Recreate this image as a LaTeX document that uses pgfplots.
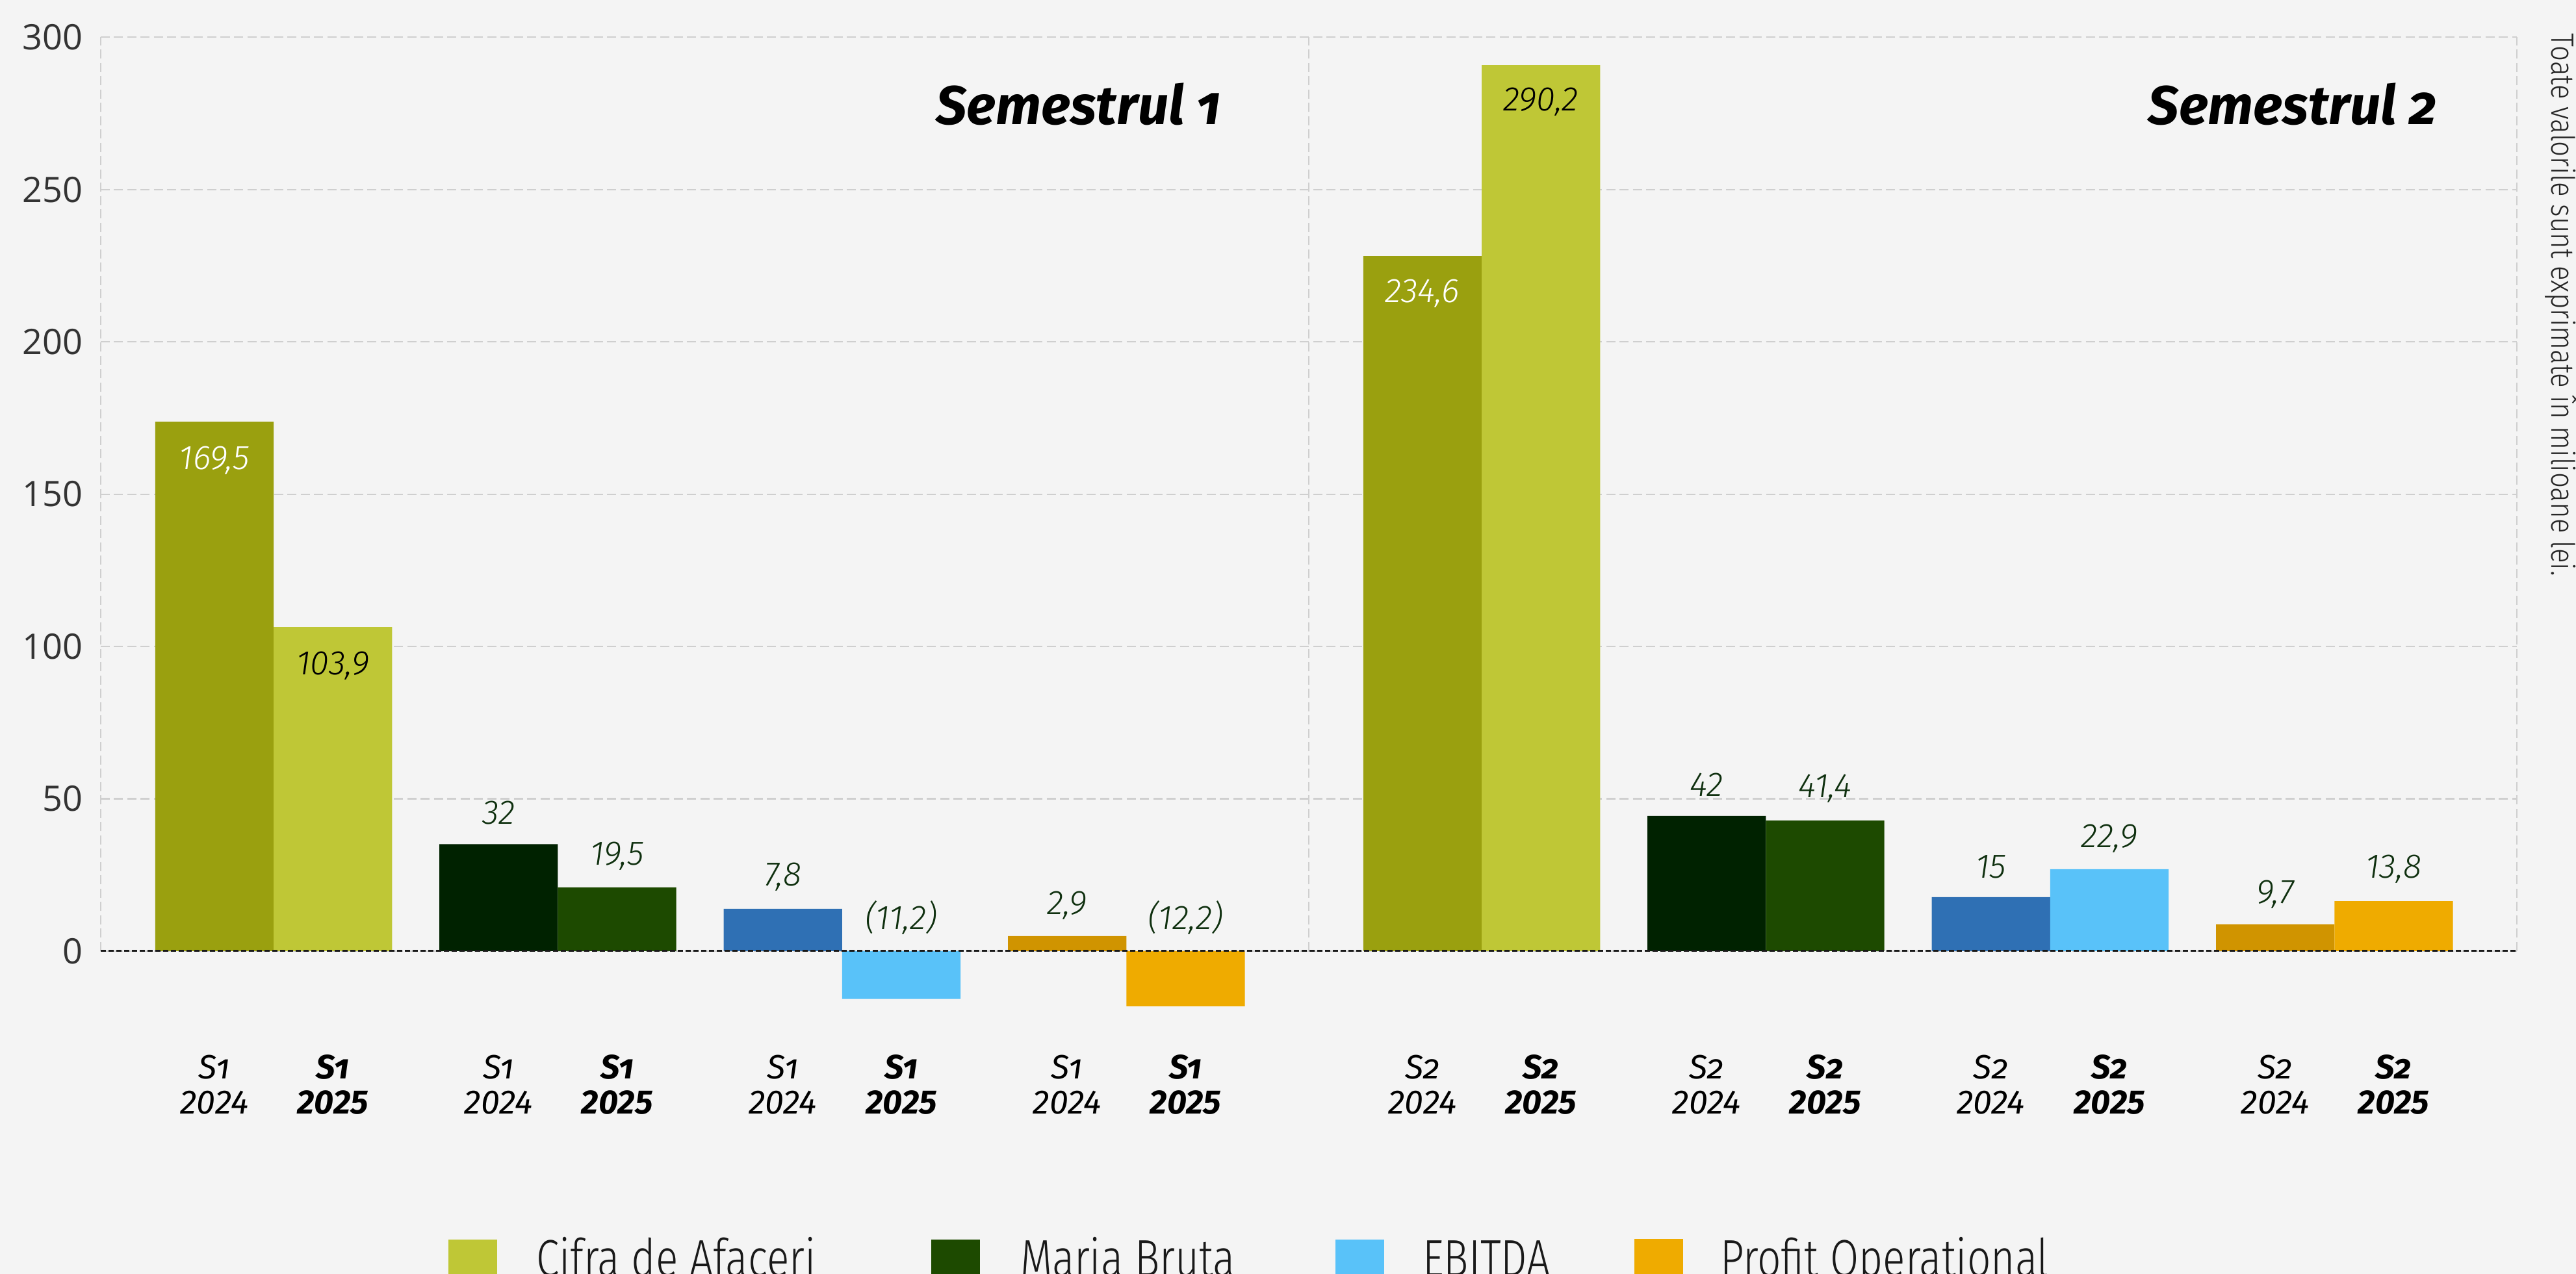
\documentclass[border=0pt]{standalone}
\usepackage{fontspec}
\usepackage{pgfplots}
\pgfplotsset{compat=1.18}
\setmainfont{Fira Sans}
\newfontfamily\fos{Fira Sans}[Numbers=OldStyle]
\newfontfamily\flight{Fira Sans Light}
\newfontfamily\fcond{Fira Sans Light}[FakeStretch=0.80]
\newfontfamily\fnote{Fira Sans Light}[FakeStretch=0.85]
\newfontfamily\tickfont{Open Sans}
\definecolor{bg}{HTML}{F4F4F4}
\definecolor{gridc}{HTML}{CFCFCF}
\definecolor{tickc}{HTML}{333333}
\definecolor{cifA}{HTML}{9AA00F}
\definecolor{cifB}{HTML}{BFC736}
\definecolor{marA}{HTML}{002200}
\definecolor{marB}{HTML}{1D4A00}
\definecolor{ebA}{HTML}{2F70B4}
\definecolor{ebB}{HTML}{59C2F9}
\definecolor{prA}{HTML}{D09400}
\definecolor{prB}{HTML}{EFAB00}
\definecolor{labc}{HTML}{0F300F}
\begin{document}
\begin{tikzpicture}
\useasboundingbox (0,0) rectangle (792.8pt,392.2pt);
\clip (0,0) rectangle (792.8pt,392.2pt);
\fill[bg] (0,0) rectangle (792.8pt,392.2pt);
\begin{axis}[
  at={(31pt,99.4pt)}, anchor=south west,
  x=36.45pt, y=0.93773pt,
  xmin=0, xmax=20.4, ymin=0, ymax=300,
  clip=false,
  axis line style={draw=none},
  tick style={draw=none},
  /pgf/number format/assume math mode=true,
  ytick={0,50,100,150,200,250,300},
  ymajorgrids=true,
  grid style={gridc, line width=0.45pt, dash pattern=on 2.8pt off 1.3pt},
  yticklabel style={font=\tickfont\fontsize{10.8}{12}\selectfont, text=tickc, inner sep=0pt, xshift=-5.4pt},
  xtick={0.96,1.96,3.36,4.36,5.76,6.76,8.16,9.16,11.16,12.16,13.56,14.56,15.96,16.96,18.36,19.36},
  xticklabels={
    {{\fos S1}\\2024},{\textbf{\fos S1}\\\textbf{2025}},
    {{\fos S1}\\2024},{\textbf{\fos S1}\\\textbf{2025}},
    {{\fos S1}\\2024},{\textbf{\fos S1}\\\textbf{2025}},
    {{\fos S1}\\2024},{\textbf{\fos S1}\\\textbf{2025}},
    {{\fos S2}\\2024},{\textbf{\fos S2}\\\textbf{2025}},
    {{\fos S2}\\2024},{\textbf{\fos S2}\\\textbf{2025}},
    {{\fos S2}\\2024},{\textbf{\fos S2}\\\textbf{2025}},
    {{\fos S2}\\2024},{\textbf{\fos S2}\\\textbf{2025}}},
  xticklabel style={font=\itshape\fontsize{10.4}{10.8}\selectfont, align=center, anchor=center, yshift=-41.2pt},
  extra x ticks={0,10.2,20.4},
  extra x tick labels={},
  extra x tick style={grid=major},
]
% Cifra de Afaceri
\addplot[ybar, bar width=1, bar shift=0pt, fill=cifA, draw=none] coordinates {(0.96,173.8) (11.16,228.2)};
\addplot[ybar, bar width=1, bar shift=0pt, fill=cifB, draw=none] coordinates {(1.96,106.4) (12.16,290.9)};
% Marja Bruta
\addplot[ybar, bar width=1, bar shift=0pt, fill=marA, draw=none] coordinates {(3.36,35.1) (13.56,44.4)};
\addplot[ybar, bar width=1, bar shift=0pt, fill=marB, draw=none] coordinates {(4.36,20.9) (14.56,42.9)};
% EBITDA
\addplot[ybar, bar width=1, bar shift=0pt, fill=ebA, draw=none] coordinates {(5.76,13.9) (15.96,17.7)};
\addplot[ybar, bar width=1, bar shift=0pt, fill=ebB, draw=none] coordinates {(6.76,-15.7) (16.96,26.9)};
% Profit Operational
\addplot[ybar, bar width=1, bar shift=0pt, fill=prA, draw=none] coordinates {(8.16,4.9) (18.36,8.8)};
\addplot[ybar, bar width=1, bar shift=0pt, fill=prB, draw=none] coordinates {(9.16,-18.1) (19.36,16.4)};

\draw[black!90, line width=0.6pt, dash pattern=on 1.6pt off 0.8pt] (axis cs:0,0) -- (axis cs:20.4,0);

\tikzset{vl/.style={font=\flight\itshape\fontsize{10.5}{12}\selectfont, text=labc, inner sep=0pt, anchor=center}}
% inside labels
\node[vl, text=white, yshift=-12pt] at (axis cs:0.96,173.8) {169,5};
\node[vl, text=black, yshift=-12pt] at (axis cs:1.96,106.4) {103,9};
\node[vl, text=white, yshift=-11.6pt] at (axis cs:11.16,228.2) {234,6};
\node[vl, text=black, yshift=-11.4pt] at (axis cs:12.16,290.9) {290,2};
% above labels
\node[vl, yshift=9.6pt] at (axis cs:3.36,35.1) {32};
\node[vl, yshift=9.6pt] at (axis cs:4.36,20.9) {19,5};
\node[vl, yshift=9.8pt] at (axis cs:5.76,13.9) {7,8};
\node[vl, yshift=10.4pt] at (axis cs:6.76,0) {(11,2)};
\node[vl, yshift=9.4pt] at (axis cs:8.16,4.9) {2,9};
\node[vl, yshift=10.4pt] at (axis cs:9.16,0) {(12,2)};
\node[vl, yshift=9.6pt] at (axis cs:13.56,44.4) {42};
\node[vl, yshift=9.8pt] at (axis cs:14.56,42.9) {41,4};
\node[vl, yshift=9.4pt] at (axis cs:15.96,17.7) {15};
\node[vl, yshift=9.4pt] at (axis cs:16.96,26.9) {22,9};
\node[vl, yshift=9.2pt] at (axis cs:18.36,8.8) {9,7};
\node[vl, yshift=9.8pt] at (axis cs:19.36,16.4) {13,8};
% titles
\node[anchor=east, inner sep=0pt, font=\fos\bfseries\itshape\fontsize{16.8}{20}\selectfont] at (axis cs:9.465,278) {Semestrul 1};
\node[anchor=east, inner sep=0pt, font=\fos\bfseries\itshape\fontsize{16.8}{20}\selectfont] at (axis cs:19.73,278) {Semestrul 2};
\end{axis}
% note
\node[rotate=-90, anchor=base west, inner sep=0pt, text=black!85, font=\fnote\fontsize{9.9}{11}\selectfont] at (785.2pt,382pt) {Toate valorile sunt exprimate în milioane lei.};
% legend
\fill[cifB] (138pt,10.6pt) rectangle +(15pt,-15pt);
\fill[marB] (286.6pt,10.6pt) rectangle +(15pt,-15pt);
\fill[ebB] (411pt,10.6pt) rectangle +(15pt,-15pt);
\fill[prB] (503pt,10.8pt) rectangle +(15pt,-15pt);
\tikzset{lg/.style={anchor=base west, inner sep=0pt, text=black!90, font=\fcond\fontsize{16}{18}\selectfont}}
\node[lg] at (164.8pt,-0.8pt) {Cifra de Afaceri};
\node[lg] at (313.8pt,-0.8pt) {Marja Bruta};
\node[lg] at (437.6pt,-0.8pt) {EBITDA};
\node[lg] at (529.2pt,-0.8pt) {Profit Operational};
\end{tikzpicture}
\end{document}
